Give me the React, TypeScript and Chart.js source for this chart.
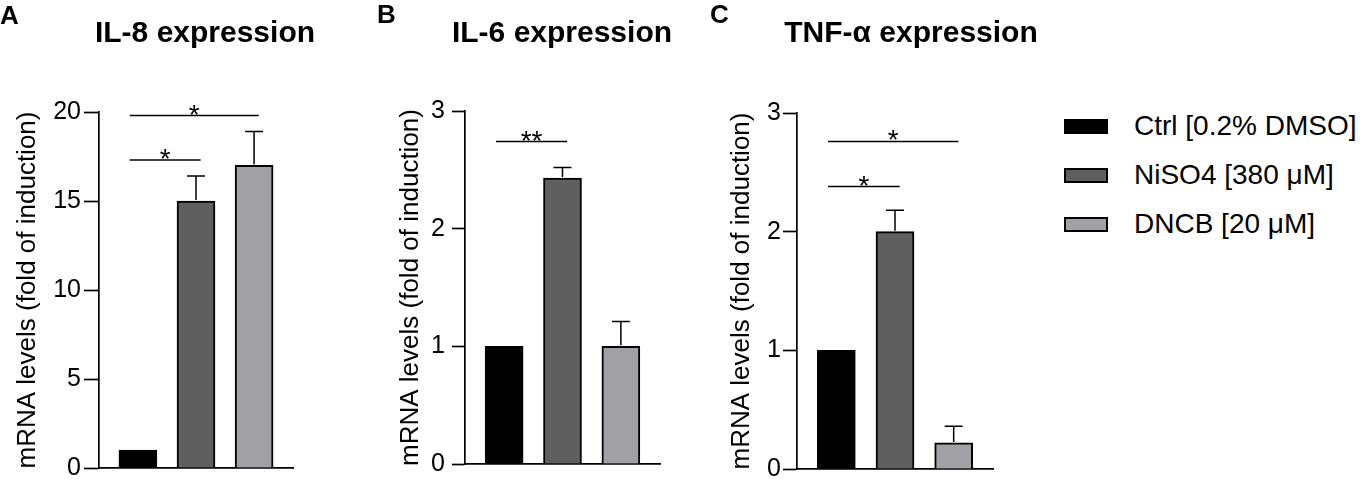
import { useEffect, useRef } from "react";
import { Chart, registerables } from "chart.js";

Chart.register(...registerables);
Chart.defaults.font.family = "'Liberation Sans', Arial, sans-serif";

// groups + legend
const groups = ["Ctrl [0.2% DMSO]", "NiSO4 [380 μM]", "DNCB [20 μM]"];
const barColors = ["#000000", "#5f5f5f", "#a0a0a5"];

// IL-8
const il8Values = [1.0, 15.0, 17.0];
const il8Errors = [0, 1.4, 1.9];
const il8Ticks = [0, 5, 10, 15, 20];
const il8Sig = [
  { from: 1, to: 2, y: 17.3, label: "*" },
  { from: 1, to: 3, y: 19.8, label: "*" },
];

// IL-6
const il6Values = [1.0, 2.43, 1.0];
const il6Errors = [0, 0.09, 0.21];
const il6Ticks = [0, 1, 2, 3];
const il6Sig = [{ from: 1, to: 2, y: 2.74, label: "**" }];

// TNF-a
const tnfValues = [1.0, 2.0, 0.22];
const tnfErrors = [0, 0.18, 0.14];
const tnfTicks = [0, 1, 2, 3];
const tnfSig = [
  { from: 1, to: 2, y: 2.38, label: "*" },
  { from: 1, to: 3, y: 2.76, label: "*" },
];

const yTitle = "mRNA levels (fold of induction)";
const FONT = "'Liberation Sans', Arial, sans-serif";

type Sig = { from: number; to: number; y: number; label: string };

type PanelProps = {
  values: number[];
  errors: number[];
  ticks: number[];
  sig: Sig[];
  // layout of the canvas on the page
  left: number;
  width: number;
  padLeft: number;
  axisWidth: number;
  chartTop: number;
  chartBottom: number;
  chartRight: number;
  tickLen: number;
  tickPad: number;
};

function BarPanel(props: PanelProps) {
  const ref = useRef<HTMLCanvasElement | null>(null);
  const { values, errors, ticks, sig, left, width, padLeft, axisWidth, chartTop, chartBottom, chartRight, tickLen, tickPad } = props;

  useEffect(() => {
    if (!ref.current) return;
    const yMax = ticks[ticks.length - 1];

    // error bars (upper only) + significance brackets
    const annotate = {
      id: "annotate",
      afterDatasetsDraw(chart: any) {
        const { ctx, scales } = chart;
        const x = scales.x;
        const y = scales.y;
        ctx.save();
        ctx.strokeStyle = "#000";
        ctx.fillStyle = "#000";
        ctx.lineWidth = 1.5;
        values.forEach((v, i) => {
          if (!errors[i]) return;
          const cx = x.getPixelForValue(i + 1);
          const y0 = y.getPixelForValue(v) - 1;
          const y1 = y.getPixelForValue(v + errors[i]);
          ctx.beginPath();
          ctx.moveTo(cx, y0);
          ctx.lineTo(cx, y1);
          ctx.moveTo(cx - 9, y1);
          ctx.lineTo(cx + 9, y1);
          ctx.stroke();
        });
        ctx.font = `28px ${FONT}`;
        ctx.textAlign = "center";
        ctx.textBaseline = "alphabetic";
        sig.forEach((s) => {
          const x1 = x.getPixelForValue(s.from - 0.14);
          const x2 = x.getPixelForValue(s.to + 0.08);
          const yy = y.getPixelForValue(s.y);
          ctx.beginPath();
          ctx.moveTo(x1, yy);
          ctx.lineTo(x2, yy);
          ctx.stroke();
          ctx.fillText(s.label, (x1 + x2) / 2, yy + 8);
        });
        ctx.restore();
      },
    };

    const chart = new Chart(ref.current, {
      type: "bar",
      data: {
        datasets: [
          {
            data: values.map((v, i) => ({ x: i + 1, y: v })),
            backgroundColor: barColors,
            borderColor: "#000",
            borderWidth: 2,
            barThickness: 38,
          },
        ],
      },
      options: {
        responsive: false,
        animation: false,
        layout: {
          padding: {
            left: padLeft,
            right: width - chartRight,
            top: chartTop,
            bottom: 486 - chartBottom,
          },
        },
        plugins: { legend: { display: false }, tooltip: { enabled: false } },
        scales: {
          x: {
            type: "linear",
            min: 0.33,
            max: 3.67,
            offset: false,
            ticks: { display: false },
            grid: { display: false, offset: false },
            border: { display: true, color: "#000", width: 1.7 },
            afterFit: (s: any) => {
              s.height = 0;
            },
          },
          y: {
            min: 0,
            max: yMax,
            afterBuildTicks: (s: any) => {
              s.ticks = ticks.map((t) => ({ value: t }));
            },
            ticks: {
              color: "#000",
              font: { size: 25 },
              padding: tickPad,
            },
            grid: {
              display: true,
              drawOnChartArea: false,
              drawTicks: true,
              tickLength: tickLen,
              tickWidth: 1.7,
              tickColor: "#000",
              color: "#000",
            },
            border: { display: true, color: "#000", width: 1.7 },
            title: {
              display: true,
              text: yTitle,
              color: "#000",
              font: { size: 26 },
              padding: { top: 0, bottom: 0 },
            },
            afterFit: (s: any) => {
              s.width = axisWidth;
            },
          },
        },
      },
      plugins: [annotate],
    });

    return () => chart.destroy();
  }, [values, errors, ticks, sig, width, padLeft, axisWidth, chartTop, chartBottom, chartRight, tickLen, tickPad]);

  return (
    <canvas
      ref={ref}
      width={width}
      height={486}
      style={{ position: "absolute", left, top: 0, width, height: 486 }}
    />
  );
}

function Label(props: { text: string; x: number; top: number; size: number; center?: boolean }) {
  const { text, x, top, size, center } = props;
  return (
    <div
      style={{
        position: "absolute",
        left: x,
        top,
        fontFamily: FONT,
        fontWeight: "bold",
        fontSize: size,
        lineHeight: 1,
        whiteSpace: "nowrap",
        transform: center ? "translateX(-50%)" : undefined,
        color: "#000",
      }}
    >
      {text}
    </div>
  );
}

export default function App() {
  return (
    <div style={{ position: "absolute", left: 0, top: 0, width: 1367, height: 486, background: "#fff" }}>
      <BarPanel
        values={il8Values}
        errors={il8Errors}
        ticks={il8Ticks}
        sig={il8Sig}
        left={0}
        width={340}
        padLeft={12}
        axisWidth={87}
        chartTop={112}
        chartBottom={469}
        chartRight={293}
        tickLen={15}
        tickPad={3}
      />
      <BarPanel
        values={il6Values}
        errors={il6Errors}
        ticks={il6Ticks}
        sig={il6Sig}
        left={360}
        width={340}
        padLeft={35}
        axisWidth={70}
        chartTop={111}
        chartBottom={470}
        chartRight={300}
        tickLen={13}
        tickPad={7}
      />
      <BarPanel
        values={tnfValues}
        errors={tnfErrors}
        ticks={tnfTicks}
        sig={tnfSig}
        left={700}
        width={340}
        padLeft={26}
        axisWidth={71}
        chartTop={113}
        chartBottom={471}
        chartRight={293}
        tickLen={14}
        tickPad={2}
      />

      <Label text="A" x={0} top={2} size={26} />
      <Label text="B" x={377} top={1} size={26} />
      <Label text="C" x={710} top={1} size={26} />

      <Label text="IL-8 expression" x={205} top={17} size={30} center />
      <Label text="IL-6 expression" x={562} top={17} size={30} center />
      <Label text="TNF-α expression" x={911} top={17} size={30} center />

      <div
        style={{
          position: "absolute",
          left: 1064,
          top: 112,
          display: "flex",
          flexDirection: "column",
          gap: 21,
          fontFamily: FONT,
          fontSize: 28,
          lineHeight: "28px",
          color: "#000",
        }}
      >
        {groups.map((g, i) => (
          <div key={g} style={{ display: "flex", alignItems: "center", height: 28, whiteSpace: "nowrap" }}>
            <div
              style={{
                width: 44,
                height: 15,
                boxSizing: "border-box",
                border: "2px solid #000",
                background: barColors[i],
                marginRight: 26,
              }}
            />
            <span>{g}</span>
          </div>
        ))}
      </div>
    </div>
  );
}
